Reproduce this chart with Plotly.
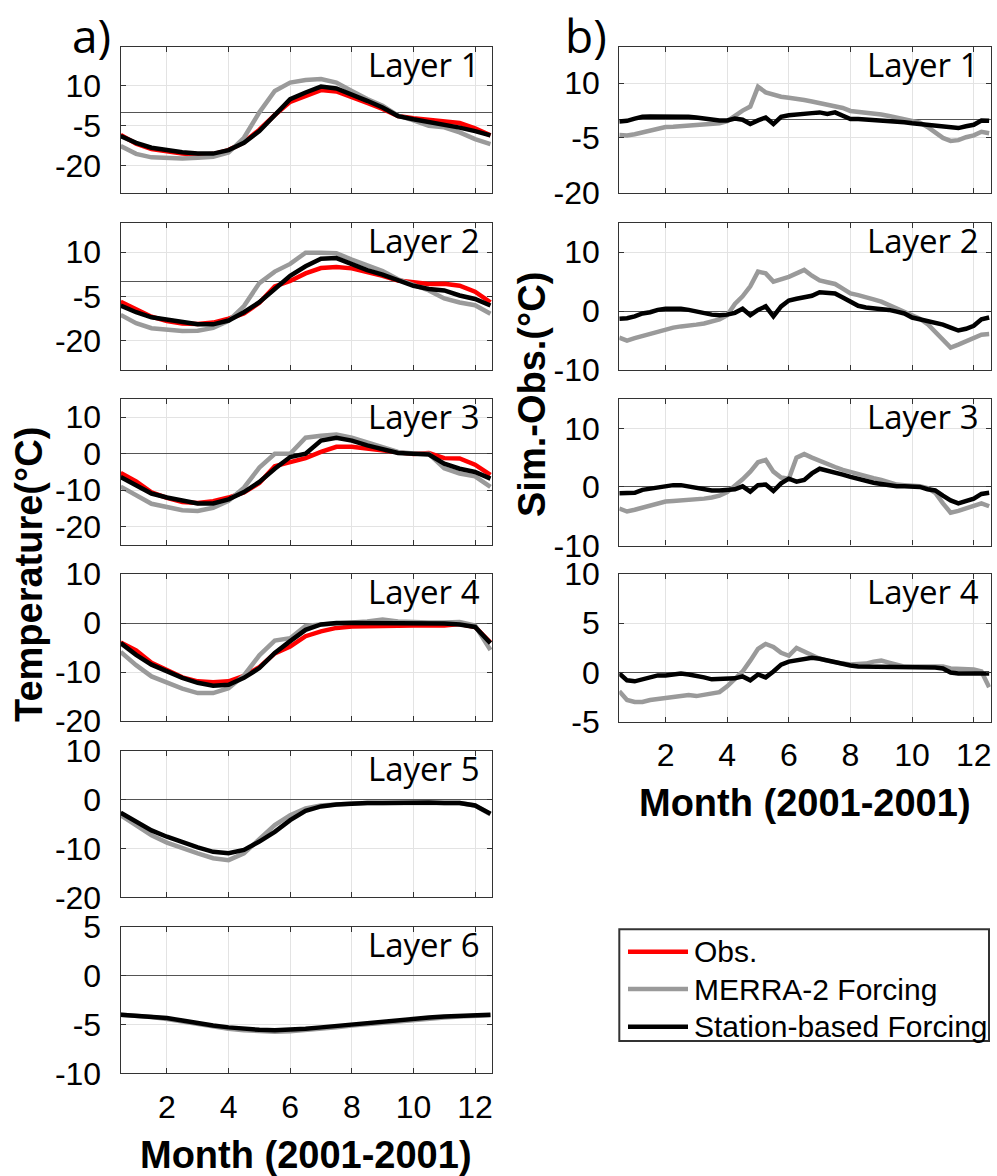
import plotly.graph_objects as go

# ---------------- data ----------------
month_a = [0.5, 1.0, 1.5, 2.0, 2.5, 3.0, 3.5, 4.0, 4.5, 5.0, 5.5, 6.0, 6.5,
           7.0, 7.5, 8.0, 8.5, 9.0, 9.5, 10.0, 10.5, 11.0, 11.5, 12.0, 12.5]
month_b = [0.5, 0.75, 1.0, 1.25, 1.5, 1.75, 2.0, 2.25, 2.5, 2.75, 3.0, 3.25,
           3.5, 3.75, 4.0, 4.25, 4.5, 4.75, 5.0, 5.25, 5.5, 5.75, 6.0, 6.25,
           6.5, 6.75, 7.0, 7.25, 7.5, 7.75, 8.0, 8.25, 8.5, 8.75, 9.0, 9.25,
           9.5, 9.75, 10.0, 10.25, 10.5, 10.75, 11.0, 11.25, 11.5, 11.75,
           12.0, 12.25, 12.5]

# a) temperatures, layers 1-6
obs_l1 = [-8.4, -11.7, -13.7, -14.6, -15.4, -15.8, -15.6, -14.1, -11.2, -6.5, -1.0, 3.9, 6.2,
          8.3, 7.8, 5.8, 3.5, 1.3, -1.4, -2.2, -2.8, -3.2, -4.0, -6.0, -8.6]
merra_l1 = [-12.6, -15.5, -16.8, -17.2, -17.2, -17.0, -16.6, -15.0, -9.5, 0.0, 8.0, 11.1, 12.1,
            12.4, 11.1, 8.0, 5.0, 2.5, -1.2, -3.0, -5.0, -5.6, -7.5, -10.0, -11.9]
stat_l1 = [-8.9, -11.4, -13.2, -14.1, -14.9, -15.4, -15.4, -14.1, -11.4, -7.0, -0.8, 4.9, 7.4,
           9.6, 8.9, 6.8, 4.3, 1.8, -1.4, -2.6, -3.6, -4.5, -5.7, -7.0, -8.6]

obs_l2 = [-6.8, -9.5, -11.9, -13.4, -14.2, -14.4, -13.9, -12.6, -10.8, -7.2, -1.6, 0.2, 2.8,
          4.6, 5.0, 4.5, 3.3, 2.0, 0.4, -0.3, -0.8, -0.7, -1.4, -3.4, -7.0]
merra_l2 = [-11.3, -14.1, -15.8, -16.4, -16.8, -16.7, -15.7, -13.3, -8.3, -0.5, 3.4, 6.0, 9.8,
            9.8, 9.6, 7.5, 5.7, 3.6, 0.8, -1.1, -3.0, -5.7, -7.1, -8.0, -10.9]
stat_l2 = [-8.1, -10.4, -12.1, -13.0, -13.8, -14.5, -14.5, -13.2, -10.4, -7.0, -2.5, 2.0, 5.2,
           7.8, 8.0, 6.0, 3.9, 2.4, 0.3, -1.4, -2.5, -3.0, -4.7, -5.9, -8.1]

obs_l3 = [-5.3, -7.6, -10.6, -12.1, -13.2, -13.5, -13.0, -12.0, -10.6, -8.0, -3.4, -2.3, -1.2,
          0.5, 1.9, 1.9, 1.4, 0.6, 0.1, -0.1, 0.2, -1.2, -1.3, -3.0, -5.8]
merra_l3 = [-9.0, -11.5, -13.7, -14.6, -15.5, -15.7, -14.8, -12.9, -9.3, -3.8, 0.0, 0.0, 4.4,
            4.9, 5.3, 4.4, 3.2, 1.8, 0.5, 0.1, 0.0, -4.0, -5.4, -6.2, -9.1]
stat_l3 = [-6.4, -8.6, -10.9, -12.0, -12.9, -13.6, -13.6, -12.5, -10.5, -7.7, -4.1, -0.9, 0.0,
           3.6, 4.4, 3.6, 2.3, 1.1, 0.2, 0.0, -0.2, -2.7, -4.1, -5.0, -6.8]

obs_l4 = [-4.0, -5.6, -8.1, -9.6, -11.1, -11.9, -12.1, -11.9, -10.8, -9.0, -6.2, -4.8, -2.7,
          -1.7, -1.0, -0.7, -0.6, -0.5, -0.5, -0.5, -0.5, -0.5, -0.2, -0.8, -4.0]
merra_l4 = [-5.9, -8.6, -10.9, -12.2, -13.4, -14.3, -14.3, -13.3, -10.7, -6.6, -3.6, -3.1, -0.6,
            -0.3, 0.0, 0.1, 0.3, 0.7, 0.3, 0.1, 0.1, 0.1, 0.2, -0.5, -5.5]
stat_l4 = [-4.1, -6.5, -8.5, -9.9, -11.2, -12.2, -12.8, -12.6, -11.2, -9.2, -6.1, -3.7, -1.4,
           -0.3, 0.0, 0.0, 0.0, 0.0, 0.0, 0.0, 0.0, -0.1, -0.3, -0.8, -4.1]

merra_l5 = [-3.2, -5.2, -7.3, -8.8, -10.0, -11.0, -12.0, -12.4, -11.0, -8.0, -5.2, -3.2, -1.8,
            -1.2, -0.9, -0.8, -0.7, -0.7, -0.6, -0.6, -0.6, -0.7, -0.7, -1.2, -3.0]
stat_l5 = [-2.7, -4.6, -6.3, -7.6, -8.8, -9.8, -10.7, -11.0, -10.3, -8.6, -6.6, -4.2, -2.3,
           -1.4, -1.0, -0.8, -0.7, -0.7, -0.6, -0.6, -0.6, -0.7, -0.7, -1.2, -2.9]

merra_l6 = [-4.0, -4.1, -4.25, -4.45, -4.7, -5.0, -5.25, -5.45, -5.6, -5.7, -5.75, -5.7, -5.6,
            -5.45, -5.3, -5.1, -4.95, -4.8, -4.65, -4.5, -4.4, -4.3, -4.2, -4.1, -4.05]
stat_l6 = [-4.0, -4.1, -4.2, -4.35, -4.6, -4.9, -5.1, -5.3, -5.45, -5.55, -5.6, -5.55, -5.45,
           -5.3, -5.15, -5.0, -4.8, -4.65, -4.5, -4.4, -4.3, -4.2, -4.1, -4.05, -4.0]

# b) simulated minus observed, layers 1-4
dmerra_l1 = [-4.2, -4.3, -4.0, -3.5, -3.0, -2.5, -2.0, -1.9, -1.8, -1.6, -1.5, -1.4, -1.2, -1.0,
             -0.4, 1.2, 2.5, 3.6, 9.0, 7.5, 6.8, 6.3, 6.0, 5.8, 5.4, 5.0, 4.6, 4.2, 3.8, 3.2,
             2.4, 2.2, 2.0, 1.8, 1.4, 1.0, 0.5, 0.0, -0.4, -0.8, -2.0, -3.5, -5.0, -5.8, -5.6,
             -4.8, -4.3, -3.3, -3.7]
dstat_l1 = [-0.5, -0.3, 0.3, 0.8, 0.9, 0.9, 1.0, 1.1, 1.0, 0.8, 0.6, 0.3, 0.0, -0.2, -0.2, 0.3,
            0.0, -1.2, -0.2, 0.6, -1.2, 0.8, 1.2, 1.3, 1.5, 1.8, 2.0, 1.6, 2.0, 1.2, 0.2, 0.2,
            0.1, 0.0, -0.2, -0.3, -0.5, -0.7, -1.0, -1.2, -1.6, -1.7, -1.7, -2.0, -2.3, -1.8,
            -1.4, -0.2, -0.3]

dmerra_l2 = [-4.5, -5.0, -4.6, -4.2, -3.9, -3.4, -3.0, -2.8, -2.6, -2.5, -2.3, -2.1, -1.8, -1.4,
             -0.7, 1.2, 2.5, 4.2, 6.7, 6.4, 5.0, 5.4, 5.8, 6.4, 7.0, 6.0, 5.2, 4.9, 4.6, 3.8,
             3.0, 2.7, 2.4, 2.0, 1.6, 1.0, 0.4, -0.1, -0.8, -1.3, -2.2, -3.5, -5.0, -6.2, -5.7,
             -5.2, -4.6, -4.0, -3.9]
dstat_l2 = [-1.3, -1.2, -0.9, -0.4, -0.2, 0.2, 0.4, 0.4, 0.4, 0.2, -0.1, -0.3, -0.6, -0.7, -0.6,
            -0.3, 0.4, -0.7, 0.2, 0.8, -0.9, 0.8, 1.8, 2.1, 2.4, 2.6, 3.2, 3.1, 3.0, 2.3, 1.5,
            0.9, 0.6, 0.5, 0.4, 0.2, -0.1, -0.4, -1.1, -1.4, -1.7, -2.0, -2.3, -2.8, -3.3, -3.0,
            -2.5, -1.4, -1.1]

dmerra_l3 = [-3.7, -4.2, -3.9, -3.5, -3.1, -2.7, -2.5, -2.4, -2.3, -2.3, -2.2, -2.0, -1.8, -1.5,
             -0.9, 0.1, 1.3, 2.6, 4.2, 4.6, 2.6, 1.6, 1.4, 5.0, 5.6, 5.0, 4.4, 3.8, 3.4, 2.9,
             2.5, 2.1, 1.8, 1.5, 1.2, 0.8, 0.4, 0.3, 0.2, 0.1, -0.2, -1.0, -2.8, -4.4, -4.1,
             -3.7, -3.2, -2.8, -3.3]
dstat_l3 = [-1.1, -1.1, -1.0, -0.5, -0.3, 0.0, 0.1, 0.3, 0.3, 0.1, -0.1, -0.3, -0.6, -0.6, -0.5,
            -0.4, 0.1, -0.8, 0.3, 0.4, -0.7, 0.6, 1.4, 0.9, 1.2, 2.3, 3.1, 2.8, 2.5, 2.1, 1.7,
            1.3, 0.9, 0.7, 0.5, 0.3, 0.1, 0.1, 0.1, 0.0, -0.4, -0.6, -1.5, -2.3, -2.8, -2.4,
            -2.0, -1.2, -1.0]

dmerra_l4 = [-1.9, -2.8, -3.0, -3.0, -2.8, -2.7, -2.6, -2.5, -2.3, -2.3, -2.4, -2.3, -2.2, -2.0,
             -1.4, -0.7, 0.1, 1.2, 2.4, 2.9, 2.6, 2.0, 1.7, 2.5, 2.1, 1.8, 1.4, 1.2, 1.0, 0.9,
             0.8, 0.8, 0.9, 1.1, 1.2, 1.0, 0.8, 0.6, 0.6, 0.6, 0.6, 0.6, 0.6, 0.4, 0.4, 0.4,
             0.3, 0.1, -1.5]
dstat_l4 = [-0.1, -0.8, -0.9, -0.7, -0.4, -0.3, -0.3, -0.2, -0.1, -0.2, -0.3, -0.5, -0.7, -0.7,
            -0.7, -0.6, -0.4, -0.8, -0.2, -0.5, 0.1, 0.8, 1.1, 1.2, 1.3, 1.5, 1.4, 1.2, 1.0, 0.8,
            0.7, 0.6, 0.6, 0.5, 0.5, 0.5, 0.5, 0.5, 0.5, 0.5, 0.5, 0.5, 0.4, 0.0, -0.1, -0.1,
            0.0, 0.0, -0.1]

layer_names = ["Layer 1", "Layer 2", "Layer 3", "Layer 4", "Layer 5", "Layer 6"]
month_ticks = [2, 4, 6, 8, 10, 12]
series_names = ["Obs.", "MERRA-2 Forcing", "Station-based Forcing"]
series_colors = ["#ff0000", "#9a9a9a", "#000000"]

left_series = [
    (obs_l1, merra_l1, stat_l1),
    (obs_l2, merra_l2, stat_l2),
    (obs_l3, merra_l3, stat_l3),
    (obs_l4, merra_l4, stat_l4),
    (None, merra_l5, stat_l5),
    (None, merra_l6, stat_l6),
]
right_series = [
    (dmerra_l1, dstat_l1),
    (dmerra_l2, dstat_l2),
    (dmerra_l3, dstat_l3),
    (dmerra_l4, dstat_l4),
]
left_ranges = [[-30, 24.5], [-30, 20], [-25, 15], [-20, 10], [-20, 10], [-10, 5]]
left_ticks = [[-20, -5, 10], [-20, -5, 10], [-20, -10, 0, 10], [-20, -10, 0, 10],
              [-20, -10, 0, 10], [-10, -5, 0, 5]]
right_ranges = [[-20, 20], [-10, 15], [-10, 15], [-5, 10]]
right_ticks = [[-20, -5, 10], [-10, 0, 10], [-10, 0, 10], [-5, 0, 5, 10]]

# ---------------- layout geometry (pixels) ----------------
W, H = 997, 1176
left_x = (120.7, 492.0)
right_x = (619.3, 990.7)
left_y = [(46.7, 192.7), (222.7, 370.0), (399.0, 545.0), (574.0, 721.0),
          (750.7, 897.3), (926.7, 1073.3)]
right_y = [(46.7, 192.7), (222.7, 370.0), (399.0, 545.5), (574.0, 721.7)]

TICKFONT = dict(family="Liberation Sans, Arial, sans-serif", size=32, color="black")
LW = 4.5

fig = go.Figure()
layout = dict(
    template="none",
    width=W, height=H, margin=dict(l=0, r=0, t=0, b=0, pad=0, autoexpand=False),
    paper_bgcolor="white", plot_bgcolor="white", showlegend=False,
    annotations=[], shapes=[],
)


def axis_pair(idx, xd, yd, yrange, yticks, show_xlabels):
    xa = dict(domain=[xd[0] / W, xd[1] / W], range=[0.5, 12.55], automargin=False,
              tickvals=month_ticks, ticktext=[str(t) for t in month_ticks],
              showticklabels=show_xlabels, ticks="inside", ticklen=5,
              tickcolor="#333333", showline=True, linecolor="#333333", linewidth=1.3,
              mirror="allticks", showgrid=True, gridcolor="#e3e3e3", gridwidth=1,
              zeroline=False, tickfont=TICKFONT, ticklabelstandoff=5,
              anchor="y" if idx == 1 else f"y{idx}")
    ya = dict(domain=[1 - yd[1] / H, 1 - yd[0] / H], range=yrange, automargin=False,
              tickvals=yticks, ticktext=[str(t) for t in yticks],
              ticks="inside", ticklen=5, tickcolor="#333333",
              showline=True, linecolor="#333333", linewidth=1.3, mirror="allticks",
              showgrid=True, gridcolor="#e3e3e3", gridwidth=1,
              zeroline=True, zerolinecolor="#555555", zerolinewidth=1.3,
              tickfont=TICKFONT, ticklabelstandoff=12,
              anchor="x" if idx == 1 else f"x{idx}")
    sfx = "" if idx == 1 else str(idx)
    layout[f"xaxis{sfx}"] = xa
    layout[f"yaxis{sfx}"] = ya
    return ("x" + sfx, "y" + sfx)


def layer_label(xr, yr, text):
    layout["annotations"].append(dict(
        text=text, xref=f"{xr} domain", yref=f"{yr} domain", x=1, y=1,
        xanchor="right", yanchor="top", xshift=-10, yshift=7, showarrow=False,
        font=dict(family="Open Sans, sans-serif", size=33, color="black")))


idx = 1
for i, (obs, merra, stat) in enumerate(left_series):
    xr, yr = axis_pair(idx, left_x, left_y[i], left_ranges[i], left_ticks[i], i == 5)
    for k, ser in enumerate((obs, merra, stat)):
        if ser is None:
            continue
        fig.add_trace(go.Scatter(x=month_a, y=ser, mode="lines", xaxis=xr, yaxis=yr,
                                 name=series_names[k],
                                 line=dict(color=series_colors[k], width=LW)))
    layer_label(xr, yr, layer_names[i])
    idx += 1

for i, (dmerra, dstat) in enumerate(right_series):
    xr, yr = axis_pair(idx, right_x, right_y[i], right_ranges[i], right_ticks[i], i == 3)
    for k, ser in ((1, dmerra), (2, dstat)):
        fig.add_trace(go.Scatter(x=month_b, y=ser, mode="lines", xaxis=xr, yaxis=yr,
                                 name=series_names[k],
                                 line=dict(color=series_colors[k], width=LW)))
    layer_label(xr, yr, layer_names[i])
    idx += 1

TITLEFONT = dict(family="Liberation Sans, Arial, sans-serif", size=38, color="black")
ann = layout["annotations"]
ann.append(dict(text="<b>Month (2001-2001)</b>", xref="paper", yref="paper",
                x=(left_x[0] + left_x[1]) / 2 / W, y=1 - 1155 / H,
                xanchor="center", yanchor="middle", showarrow=False, font=TITLEFONT))
ann.append(dict(text="<b>Month (2001-2001)</b>", xref="paper", yref="paper",
                x=(right_x[0] + right_x[1]) / 2 / W, y=1 - 803 / H,
                xanchor="center", yanchor="middle", showarrow=False, font=TITLEFONT))
ann.append(dict(text="<b>Temperature(°C)</b>", xref="paper", yref="paper",
                x=29 / W, y=1 - 575 / H, textangle=-90,
                xanchor="center", yanchor="middle", showarrow=False, font=TITLEFONT))
ann.append(dict(text="<b>Sim.-Obs.(°C)</b>", xref="paper", yref="paper",
                x=532 / W, y=1 - 395 / H, textangle=-90,
                xanchor="center", yanchor="middle", showarrow=False, font=TITLEFONT))
PANELFONT = dict(family="Open Sans, sans-serif", size=46, color="black")
ann.append(dict(text="a)", xref="paper", yref="paper", x=70 / W, y=1 - 35 / H,
                xanchor="left", yanchor="middle", showarrow=False, font=PANELFONT))
ann.append(dict(text="b)", xref="paper", yref="paper", x=563 / W, y=1 - 35 / H,
                xanchor="left", yanchor="middle", showarrow=False, font=PANELFONT))

# legend box (drawn in paper space)
shp = layout["shapes"]
shp.append(dict(type="rect", xref="paper", yref="paper",
                x0=619.3 / W, x1=989 / W, y0=1 - 1041 / H, y1=1 - 929.3 / H,
                line=dict(color="#333333", width=2), fillcolor="white", layer="below"))
legend_rows = [951.7, 989.0, 1026.7]
LEGFONT = dict(family="Liberation Sans, Arial, sans-serif", size=30, color="black")
for k, yy in enumerate(legend_rows):
    shp.append(dict(type="line", xref="paper", yref="paper",
                    x0=628 / W, x1=688 / W, y0=1 - yy / H, y1=1 - yy / H,
                    line=dict(color=series_colors[k], width=LW)))
    ann.append(dict(text=series_names[k], xref="paper", yref="paper",
                    x=692 / W, y=1 - yy / H, xanchor="left", yanchor="middle",
                    showarrow=False, font=LEGFONT))

fig.update_layout(**layout)
fig.write_html("out.html")
